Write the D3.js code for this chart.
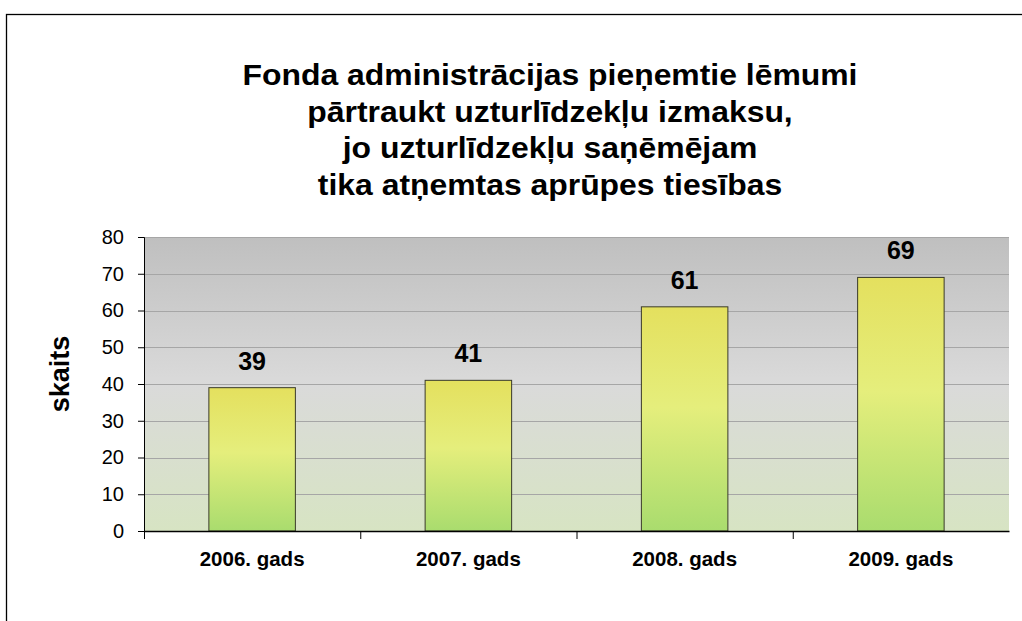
<!DOCTYPE html>
<html>
<head>
<meta charset="utf-8">
<script src="https://cdn.jsdelivr.net/npm/d3@7"></script>
<style>
  html, body { margin: 0; padding: 0; background: #fff; }
  svg { display: block; font-family: "Liberation Sans", Arial, sans-serif; }
</style>
</head>
<body>
<div id="chart"></div>
<script>
// chart data
const categories = ['2006. gads', '2007. gads', '2008. gads', '2009. gads'];
const values = [39, 41, 61, 69];
const yTicks = [0, 10, 20, 30, 40, 50, 60, 70, 80];
const titleLines = [
  'Fonda administrācijas pieņemtie lēmumi',
  'pārtraukt uzturlīdzekļu izmaksu,',
  'jo uzturlīdzekļu saņēmējam',
  'tika atņemtas aprūpes tiesības'
];
const yLabel = 'skaits';

const width = 1022, height = 621;
const margin = { top: 237, right: 13, bottom: 90, left: 144 };
const innerW = width - margin.left - margin.right;
const innerH = height - margin.top - margin.bottom;

const svg = d3.select('#chart').append('svg')
  .attr('width', width).attr('height', height);

const defs = svg.append('defs');
const bg = defs.append('linearGradient').attr('id', 'bg')
  .attr('x1', 0).attr('y1', 0).attr('x2', 0).attr('y2', 1);
bg.append('stop').attr('offset', '0%').attr('stop-color', '#bfbfbf');
bg.append('stop').attr('offset', '50%').attr('stop-color', '#dadada');
bg.append('stop').attr('offset', '100%').attr('stop-color', '#d7e4c3');

const barGrad = defs.append('linearGradient').attr('id', 'bar')
  .attr('x1', 0).attr('y1', 0).attr('x2', 0).attr('y2', 1);
barGrad.append('stop').attr('offset', '0%').attr('stop-color', '#e4e05e');
barGrad.append('stop').attr('offset', '45%').attr('stop-color', '#e5ee7c');
barGrad.append('stop').attr('offset', '100%').attr('stop-color', '#a9dc6e');

// outer frame (runs off the right and bottom edge)
svg.append('rect')
  .attr('x', 6.5).attr('y', 14.5).attr('width', 1100).attr('height', 620)
  .attr('fill', 'none').attr('stroke', '#000').attr('stroke-width', 1.3);

// title, slightly stretched horizontally like the original
const titleX = 550;
svg.append('g')
  .attr('transform', `translate(${titleX},0) scale(1.1,1)`)
  .append('text')
  .attr('y', 85.5)
  .attr('text-anchor', 'middle')
  .style('font-size', '29px').style('font-weight', 'bold')
  .selectAll('tspan').data(titleLines).join('tspan')
  .attr('x', 0).attr('dy', (d, i) => i === 0 ? 0 : 36.5)
  .text(d => d);

const g = svg.append('g').attr('transform', `translate(${margin.left},${margin.top})`);

const x = d3.scaleBand().domain(categories).range([0, innerW]).paddingInner(0.6).paddingOuter(0.3);
const xTickScale = d3.scaleBand().domain(categories).range([0, innerW]);
const y = d3.scaleLinear().domain([0, 80]).range([innerH, 0]);

g.append('rect').attr('width', innerW).attr('height', innerH).attr('fill', 'url(#bg)');

// gridlines
g.append('g').selectAll('line').data(yTicks.slice(1)).join('line')
  .attr('x1', 0).attr('x2', innerW)
  .attr('y1', d => Math.round(y(d)) + 0.5).attr('y2', d => Math.round(y(d)) + 0.5)
  .attr('stroke', '#a6a6a6').attr('stroke-width', 1);

// bars
g.append('g').selectAll('rect').data(values).join('rect')
  .attr('x', (d, i) => x(categories[i]))
  .attr('y', d => y(d))
  .attr('width', x.bandwidth())
  .attr('height', d => innerH - y(d))
  .attr('fill', 'url(#bar)')
  .attr('stroke', '#3a3a2a').attr('stroke-width', 1);

// value labels
g.append('g').selectAll('text').data(values).join('text')
  .attr('x', (d, i) => x(categories[i]) + x.bandwidth() / 2)
  .attr('y', d => y(d) - 18)
  .attr('text-anchor', 'middle')
  .style('font-size', '25px').style('font-weight', 'bold')
  .text(d => d);

// y axis
const yAxis = g.append('g')
  .call(d3.axisLeft(y).tickValues(yTicks).tickSize(6).tickPadding(14));
yAxis.select('.domain').attr('stroke', '#000');
yAxis.selectAll('text').style('font-size', '20px').attr('fill', '#000');

// x axis
const xAxis = g.append('g').attr('transform', `translate(0,${innerH})`)
  .call(d3.axisBottom(xTickScale).tickSize(0).tickPadding(20));
xAxis.select('.domain').attr('stroke', '#000').attr('stroke-width', 1.5);
xAxis.selectAll('text').style('font-size', '20.5px').style('font-weight', 'bold').attr('fill', '#000');
// category separator ticks
xAxis.append('g').selectAll('line').data(categories).join('line')
  .attr('x1', d => xTickScale(d) + 0.5).attr('x2', d => xTickScale(d) + 0.5)
  .attr('y1', 0).attr('y2', 8).attr('stroke', '#000');

// y axis title
svg.append('text')
  .attr('transform', `translate(69,374) rotate(-90)`)
  .attr('text-anchor', 'middle')
  .style('font-size', '27px').style('font-weight', 'bold')
  .text(yLabel);
</script>
</body>
</html>
